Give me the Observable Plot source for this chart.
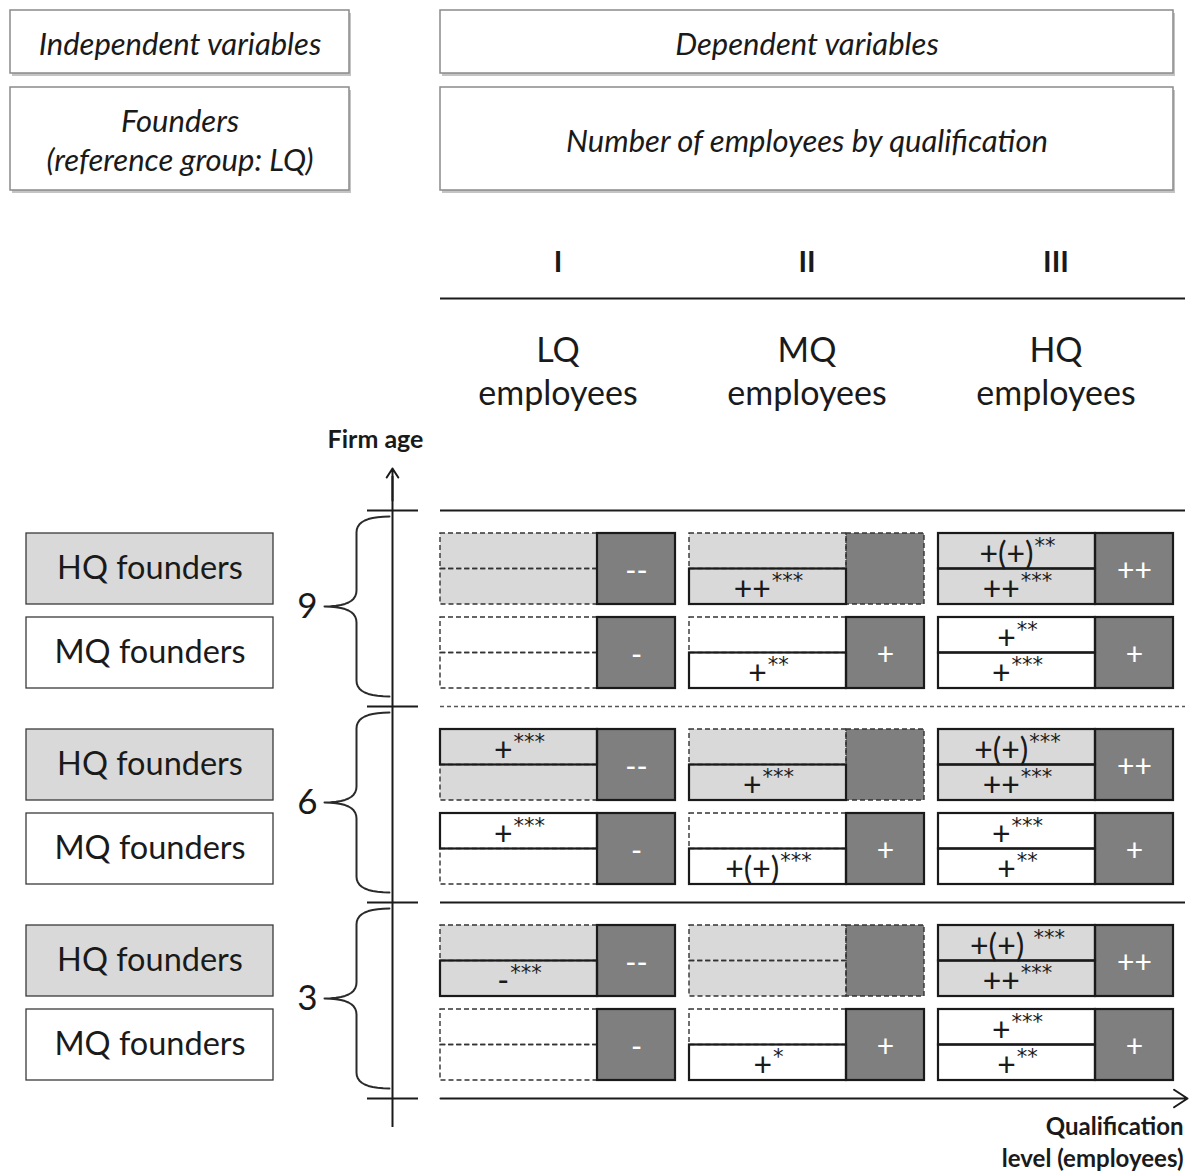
<!DOCTYPE html>
<html><head><meta charset="utf-8">
<script src="https://cdn.jsdelivr.net/npm/d3@7"></script>
<script src="https://cdn.jsdelivr.net/npm/@observablehq/plot@0.6"></script>
<style>body{margin:0;background:#fff}#chart{width:1192px;height:1174px}</style>
</head><body><div id="chart"></div>
<script>
// ---------------- data ----------------
const headerLeft = ["Independent variables", "Founders\n(reference group: LQ)"];
const headerRight = ["Dependent variables", "Number of employees by qualification"];
const columnNumerals = ["I", "II", "III"];
const columnLabels = ["LQ\nemployees", "MQ\nemployees", "HQ\nemployees"];
const firmAges = [9, 6, 3];
const founderGroups = ["HQ founders", "MQ founders"];
// rows: 9/HQ, 9/MQ, 6/HQ, 6/MQ, 3/HQ, 3/MQ ; columns I, II, III ; "main^stars", null = not significant
const upperEffects = [
  [null, null, "+(+)^**"],
  [null, null, "+^**"],
  ["+^***", null, "+(+)^***"],
  ["+^***", null, "+^***"],
  [null, null, "+(+) ^***"],
  [null, null, "+^***"]
];
const lowerEffects = [
  [null, "++^***", "++^***"],
  [null, "+^**", "+^***"],
  [null, "+^***", "++^***"],
  [null, "+(+)^***", "+^**"],
  ["-^***", null, "++^***"],
  [null, "+^*", "+^**"]
];
const totalEffects = [
  ["--", null, "++"],
  ["-", "+", "+"],
  ["--", null, "++"],
  ["-", "+", "+"],
  ["--", null, "++"],
  ["-", "+", "+"]
];
const yAxisLabel = "Firm age";
const xAxisLabel = "Qualification\nlevel (employees)";

// ---------------- layout ----------------
const W = 1192, H = 1174;
const FONT = "Lato";
const STARFONT = "DejaVu Sans";
const LIGHT = "#d9d9d9", DARK = "#7f7f7f", INK = "#1a1a1a";
const gridL = 440, gridR = 1185;
const axisX = 392;
const bandTop = k => 510 + k * 196;
const rowTop = (k, f) => bandTop(k) + (f === 0 ? 23 : 107);
const rowH = 71;
const colX = ci => 440 + ci * 249;
const halfW = 157, sqW = 78;
const colCenter = ci => colX(ci) + (halfW + sqW) / 2;

const ctx = document.createElement("canvas").getContext("2d");
const tw = (s, size, fam) => { ctx.font = `${size}px ${fam}`; return ctx.measureText(s).width; };
const MAIN = 32, STAR = 21;

const rows = firmAges.flatMap((age, k) => founderGroups.map((g, f) => ({age, k, f, group: g, ri: k * 2 + f})));

const halves = [], squares = [], mains = [], stars = [];
rows.forEach(r => {
  columnNumerals.forEach((c, ci) => {
    [upperEffects, lowerEffects].forEach((eff, h) => {
      const label = eff[r.ri][ci];
      const x1 = colX(ci), y1 = rowTop(r.k, r.f) + h * rowH / 2;
      halves.push({x1, x2: x1 + halfW, y1, y2: y1 + rowH / 2, fill: r.f === 0 ? LIGHT : "white", sig: label != null});
      if (label) {
        const [m, s] = label.split("^");
        const wm = tw(m, MAIN, FONT), ws = tw(s, STAR, STARFONT);
        const cx = x1 + halfW / 2, cy = y1 + rowH / 4;
        mains.push({x: cx - (wm + ws) / 2, y: cy, text: m});
        stars.push({x: cx - (wm + ws) / 2 + wm + 1, y: cy, text: s});
      }
    });
    const t = totalEffects[r.ri][ci];
    const sx = colX(ci) + halfW, sy = rowTop(r.k, r.f);
    squares.push({x1: sx, x2: sx + sqW, y1: sy, y2: sy + rowH, text: t, sig: t != null, cx: sx + sqW / 2, cy: sy + rowH / 2});
  });
});

const founderBoxes = rows.map(r => ({x1: 26, x2: 273, y1: rowTop(r.k, r.f), y2: rowTop(r.k, r.f) + rowH, text: r.group, fill: r.f === 0 ? LIGHT : "white"}));

const headerBoxes = [
  {x1: 10, x2: 349, y1: 10, y2: 73, text: headerLeft[0]},
  {x1: 10, x2: 349, y1: 87, y2: 190, text: headerLeft[1]},
  {x1: 440, x2: 1173, y1: 10, y2: 73, text: headerRight[0]},
  {x1: 440, x2: 1173, y1: 87, y2: 190, text: headerRight[1]}
];

function bracePoints(y0, y1, xEnd, xMid, xTip, r, id) {
  const ym = (y0 + y1) / 2, pts = [];
  const quad = (p0, c, p1) => { for (let i = 0; i <= 10; i++) { const t = i / 10, u = 1 - t; pts.push({id, x: u*u*p0[0] + 2*u*t*c[0] + t*t*p1[0], y: u*u*p0[1] + 2*u*t*c[1] + t*t*p1[1]}); } };
  quad([xEnd, y0], [xMid, y0], [xMid, y0 + r]);
  quad([xMid, ym - r], [xMid, ym], [xTip, ym]);
  quad([xTip, ym], [xMid, ym], [xMid, ym + r]);
  quad([xMid, y1 - r], [xMid, y1], [xEnd, y1]);
  return pts;
}
const braces = firmAges.flatMap((a, k) => bracePoints(bandTop(k) + 6, bandTop(k + 1) - 10, 389, 356, 324, 16, k));
const braceLabels = firmAges.map((a, k) => ({text: String(a), x: 307, y: (bandTop(k) + 6 + bandTop(k + 1) - 10) / 2}));

const boundaries = [0, 1, 2, 3].map(k => ({y: bandTop(k), k}));
const DASH = {fill: "none", stroke: "#333", strokeWidth: 1.4, strokeDasharray: "5,3"};

const chart = Plot.plot({
  width: W, height: H, margin: 0,
  x: {domain: [0, W], range: [0, W], axis: null},
  y: {domain: [0, H], range: [0, H], axis: null},
  style: {background: "white", fontFamily: FONT},
  marks: [
    // header boxes
    Plot.rect(headerBoxes, {x1: d => d.x1 + 2, x2: d => d.x2 + 2, y1: d => d.y1 + 3, y2: d => d.y2 + 3, fill: "#c4c4c4"}),
    Plot.rect(headerBoxes, {x1: "x1", x2: "x2", y1: "y1", y2: "y2", fill: "white", stroke: "#8a8a8a", strokeWidth: 1.5}),
    Plot.text(headerBoxes, {x: d => (d.x1 + d.x2) / 2, y: d => (d.y1 + d.y2) / 2, text: "text", fontSize: 31, fontStyle: "italic", fill: INK, lineAnchor: "middle", lineHeight: 1.26}),
    // column heads
    Plot.text(columnNumerals, {x: (d, i) => colCenter(i), y: 262, text: d => d, fontSize: 29, fontWeight: "bold", fill: INK}),
    Plot.ruleY([298], {x1: gridL, x2: gridR, stroke: INK, strokeWidth: 2}),
    Plot.text(columnLabels, {x: (d, i) => colCenter(i), y: 369, text: d => d, fontSize: 34, fill: INK, lineAnchor: "middle", lineHeight: 1.27}),
    // axes
    Plot.text([yAxisLabel], {x: 375, y: 439, text: d => d, fontSize: 25, fontWeight: "bold", fill: INK}),
    Plot.ruleX([axisX], {y1: 1127, y2: 476, stroke: INK, strokeWidth: 2}),
    Plot.arrow([0], {x1: axisX, x2: axisX, y1: 500, y2: 468, stroke: INK, strokeWidth: 2, headLength: 12, headAngle: 66}),
    Plot.ruleY(boundaries, {y: "y", x1: 367, x2: 418, stroke: INK, strokeWidth: 2}),
    Plot.ruleY(boundaries.filter(d => d.k === 0 || d.k === 2), {y: "y", x1: gridL, x2: gridR, stroke: INK, strokeWidth: 2}),
    Plot.ruleY(boundaries.filter(d => d.k === 1), {y: "y", x1: gridL, x2: gridR, stroke: "#555", strokeWidth: 1.3, strokeDasharray: "4,3"}),
    Plot.arrow(boundaries.filter(d => d.k === 3), {x1: gridL, x2: 1187, y1: "y", y2: "y", stroke: INK, strokeWidth: 2, headLength: 12, headAngle: 66}),
    Plot.text([xAxisLabel], {x: 1183, y: 1140, text: d => d, fontSize: 24, fontWeight: "bold", fill: INK, textAnchor: "end", lineAnchor: "middle", lineHeight: 1.33}),
    // braces
    Plot.line(braces, {x: "x", y: "y", z: "id", stroke: "#2a2a2a", strokeWidth: 2, curve: "linear"}),
    Plot.text(braceLabels, {x: "x", y: "y", text: "text", fontSize: 35, fill: INK}),
    // founder boxes
    Plot.rect(founderBoxes, {x1: "x1", x2: "x2", y1: "y1", y2: "y2", fill: "fill", stroke: "#3a3a3a", strokeWidth: 1.3}),
    Plot.text(founderBoxes, {x: d => (d.x1 + d.x2) / 2, y: d => (d.y1 + d.y2) / 2, text: "text", fontSize: 32.5, fill: INK}),
    // cells
    Plot.rect(halves, {x1: "x1", x2: "x2", y1: "y1", y2: "y2", fill: "fill"}),
    Plot.rect(squares, {x1: "x1", x2: "x2", y1: "y1", y2: "y2", fill: DARK}),
    Plot.rect(halves.filter(d => !d.sig), {x1: "x1", x2: "x2", y1: "y1", y2: "y2", ...DASH}),
    Plot.rect(squares.filter(d => !d.sig), {x1: "x1", x2: "x2", y1: "y1", y2: "y2", ...DASH}),
    Plot.rect(halves.filter(d => d.sig), {x1: "x1", x2: "x2", y1: "y1", y2: "y2", fill: "none", stroke: INK, strokeWidth: 2.2}),
    Plot.rect(squares.filter(d => d.sig), {x1: "x1", x2: "x2", y1: "y1", y2: "y2", fill: "none", stroke: INK, strokeWidth: 2.2}),
    Plot.text(mains, {x: "x", y: d => d.y + 3, text: "text", fontSize: MAIN, fill: INK, textAnchor: "start"}),
    Plot.text(stars, {x: "x", y: d => d.y - 5, text: "text", fontSize: STAR, fontFamily: STARFONT, fill: INK, textAnchor: "start"}),
    Plot.text(squares.filter(d => d.sig), {x: "cx", y: d => d.cy + 2, text: "text", fontSize: 30, fill: "white"})
  ]
});
document.getElementById("chart").append(chart);
</script>
</body></html>
